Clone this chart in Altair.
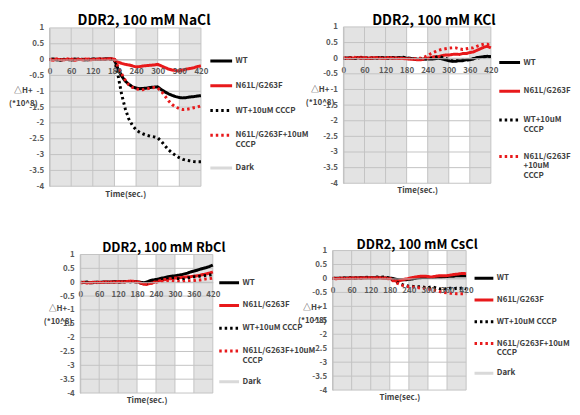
import altair as alt
import pandas as pd

FONT = "Noto Sans CJK KR"

TIME = [0, 10, 20, 30, 40, 50, 60, 70, 80, 90, 100, 110, 120, 130, 140, 150, 160, 170, 180,
        190, 200, 210, 220, 230, 240, 250, 260, 270, 280, 290, 300, 310, 320, 330, 340, 350,
        360, 370, 380, 390, 400, 410, 420]

SERIES = ["WT", "N61L/G263F", "WT+10uM CCCP", "N61L/G263F+10uM CCCP", "Dark"]
COLORS = ["#000000", "#e8191b", "#000000", "#e8191b", "#d9d9d9"]
DASHES = [[1, 0], [1, 0], [2.5, 3], [2.5, 3], [1, 0]]
WIDTHS = [3, 3, 3, 3, 1]

# Light-off (dark) periods shown as grey bands
BAND_START = [0, 240, 360]
BAND_END = [180, 300, 420]
Y_TICKS = [-4, -3.5, -3, -2.5, -2, -1.5, -1, -0.5, 0, 0.5, 1]
X_TICKS = [0, 60, 120, 180, 240, 300, 360, 420]

# ---- NaCl ----
NACL_WT = [0.00, 0.02, 0.00, -0.02, 0.01, 0.00, -0.01, 0.02, 0.00, 0.01, -0.01, 0.00, 0.02, 0.01, 0.00, 0.02, 0.03, 0.02, 0.00,
           -0.30, -0.52, -0.68, -0.78, -0.86, -0.90, -0.92, -0.91, -0.90, -0.88, -0.87, -0.86, -0.95, -1.02, -1.08, -1.13,
           -1.17, -1.20, -1.21, -1.20, -1.18, -1.17, -1.15, -1.14]
NACL_MUT = [0.00, -0.02, 0.01, 0.00, -0.01, 0.02, 0.00, -0.02, 0.01, 0.00, 0.02, -0.01, 0.00, 0.01, 0.03, 0.00, 0.02, 0.03, 0.01,
            -0.08, -0.12, -0.15, -0.17, -0.20, -0.23, -0.22, -0.20, -0.19, -0.18, -0.17, -0.15, -0.20, -0.25, -0.30, -0.33,
            -0.35, -0.36, -0.33, -0.30, -0.28, -0.26, -0.22, -0.20]
NACL_WT_CCCP = [0.00, 0.01, -0.01, 0.00, 0.01, 0.00, -0.01, 0.00, 0.01, 0.00, -0.01, 0.00, 0.01, 0.00, 0.01, 0.00, 0.00, 0.01, 0.00,
                -0.50, -1.10, -1.55, -1.88, -2.08, -2.22, -2.30, -2.35, -2.39, -2.42, -2.44, -2.47, -2.58, -2.72, -2.85, -2.95,
                -3.03, -3.10, -3.15, -3.18, -3.20, -3.22, -3.23, -3.23]
NACL_MUT_CCCP = [0.01, 0.00, 0.02, 0.00, -0.01, 0.01, 0.02, 0.00, 0.01, -0.01, 0.00, 0.02, 0.01, 0.00, 0.01, 0.02, 0.00, 0.02, 0.00,
                 -0.22, -0.45, -0.65, -0.80, -0.88, -0.92, -0.95, -0.95, -0.93, -0.90, -0.88, -0.90, -1.00, -1.15, -1.30, -1.42,
                 -1.50, -1.55, -1.58, -1.57, -1.55, -1.52, -1.50, -1.46]

# ---- KCl ----
KCL_WT = [0.00, 0.01, 0.00, -0.01, 0.02, 0.00, 0.01, 0.00, -0.01, 0.01, 0.02, 0.00, 0.01, 0.02, 0.00, 0.01, 0.02, 0.01, 0.00,
          -0.01, -0.02, -0.03, -0.04, -0.03, -0.02, -0.03, -0.02, 0.00, -0.02, -0.05, -0.08, -0.10, -0.10, -0.08, -0.08,
          -0.05, -0.05, -0.02, 0.02, 0.03, 0.05, 0.06, 0.05]
KCL_MUT = [0.00, -0.01, 0.02, 0.00, 0.01, 0.03, 0.00, -0.01, 0.02, 0.01, 0.00, 0.01, -0.01, 0.00, 0.02, 0.00, -0.01, 0.00, -0.02,
           -0.03, -0.04, -0.05, -0.05, -0.02, 0.00, 0.02, 0.05, 0.05, 0.08, 0.10, 0.10, 0.12, 0.13, 0.12, 0.15,
           0.15, 0.18, 0.20, 0.25, 0.30, 0.35, 0.38, 0.33]
KCL_WT_CCCP = [0.00, 0.00, 0.01, 0.00, -0.01, 0.01, 0.00, 0.02, 0.00, 0.01, 0.00, 0.02, 0.01, 0.00, 0.02, 0.03, 0.02, 0.03, 0.01,
               0.00, -0.01, -0.02, -0.01, -0.02, -0.03, 0.00, 0.02, 0.05, 0.03, 0.00, -0.05, -0.08, -0.08, -0.06, -0.05,
               -0.06, -0.04, -0.02, 0.00, 0.02, 0.03, 0.05, 0.04]
KCL_MUT_CCCP = [0.01, 0.02, 0.00, 0.03, 0.01, 0.00, 0.02, 0.01, 0.00, 0.02, 0.01, 0.00, 0.01, 0.02, 0.00, 0.01, 0.00, -0.01, -0.02,
                -0.02, -0.02, -0.01, 0.00, 0.03, 0.08, 0.15, 0.20, 0.25, 0.28, 0.30, 0.32, 0.33, 0.33, 0.30, 0.28,
                0.30, 0.32, 0.33, 0.38, 0.42, 0.45, 0.45, 0.38]

# ---- RbCl ----
RBCL_WT = [0.00, -0.01, 0.00, -0.02, -0.01, 0.00, -0.01, 0.00, 0.01, 0.00, 0.01, 0.02, 0.01, 0.02, 0.02, 0.03, 0.02, 0.03, 0.02,
           0.00, -0.02, 0.00, 0.05, 0.08, 0.10, 0.12, 0.15, 0.17, 0.20, 0.22, 0.23, 0.25, 0.27, 0.30, 0.33,
           0.37, 0.40, 0.43, 0.47, 0.50, 0.53, 0.57, 0.62]
RBCL_MUT = [-0.02, 0.00, -0.01, -0.02, 0.00, -0.01, 0.00, -0.01, 0.01, 0.00, 0.01, 0.00, 0.02, 0.01, 0.02, 0.03, 0.04, 0.03, 0.02,
            -0.02, -0.07, -0.08, -0.05, -0.02, 0.02, 0.05, 0.08, 0.10, 0.12, 0.13, 0.15, 0.15, 0.17, 0.18, 0.20,
            0.20, 0.22, 0.23, 0.25, 0.28, 0.30, 0.33, 0.37]
RBCL_WT_CCCP = [-0.01, -0.02, 0.00, -0.01, -0.02, 0.00, -0.01, 0.00, -0.01, 0.00, 0.00, 0.01, 0.00, 0.01, 0.02, 0.01, 0.02, 0.02, 0.01,
                -0.02, -0.05, -0.05, -0.02, 0.02, 0.05, 0.08, 0.10, 0.12, 0.13, 0.15, 0.15, 0.13, 0.10, 0.12, 0.15,
                0.18, 0.20, 0.20, 0.22, 0.23, 0.25, 0.26, 0.28]
RBCL_MUT_CCCP = [-0.02, -0.01, -0.03, -0.02, -0.01, -0.02, 0.00, -0.01, 0.00, -0.01, 0.01, 0.00, 0.01, 0.02, 0.01, 0.02, 0.03, 0.02, 0.01,
                 -0.03, -0.05, -0.07, -0.05, -0.03, 0.00, 0.02, 0.03, 0.05, 0.05, 0.05, 0.04, 0.03, 0.02, 0.03, 0.05,
                 0.05, 0.06, 0.08, 0.08, 0.10, 0.12, 0.13, 0.15]

# ---- CsCl ----
CSCL_WT = [0.00, 0.01, 0.00, 0.01, 0.02, 0.01, 0.02, 0.01, 0.02, 0.03, 0.02, 0.03, 0.02, 0.03, 0.02, 0.03, 0.02, 0.02, 0.01,
           0.00, -0.03, -0.05, -0.05, -0.05, -0.03, -0.02, 0.00, 0.02, 0.03, 0.03, 0.03, 0.03, 0.04, 0.05, 0.05,
           0.06, 0.07, 0.08, 0.08, 0.10, 0.10, 0.10, 0.10]
CSCL_MUT = [0.00, -0.01, 0.00, 0.01, 0.00, 0.01, 0.02, 0.01, 0.02, 0.01, 0.02, 0.03, 0.02, 0.01, 0.02, 0.03, 0.02, 0.01, 0.00,
            -0.05, -0.10, -0.08, -0.05, -0.02, 0.00, 0.03, 0.05, 0.07, 0.08, 0.08, 0.07, 0.05, 0.07, 0.09, 0.10,
            0.10, 0.10, 0.12, 0.14, 0.15, 0.17, 0.18, 0.17]
CSCL_WT_CCCP = [0.01, 0.00, 0.01, 0.02, 0.01, 0.02, 0.03, 0.02, 0.03, 0.02, 0.03, 0.04, 0.03, 0.04, 0.05, 0.04, 0.05, 0.04, 0.00,
                -0.05, -0.12, -0.18, -0.22, -0.25, -0.28, -0.28, -0.30, -0.30, -0.30, -0.32, -0.33, -0.30, -0.32, -0.35, -0.38,
                -0.35, -0.40, -0.35, -0.38, -0.35, -0.36, -0.33, -0.38]
CSCL_MUT_CCCP = [0.00, 0.01, 0.00, 0.01, 0.00, 0.02, 0.01, 0.02, 0.01, 0.02, 0.03, 0.02, 0.03, 0.02, 0.03, 0.02, 0.01, 0.00, -0.02,
                 -0.08, -0.15, -0.20, -0.25, -0.28, -0.30, -0.30, -0.32, -0.33, -0.35, -0.35, -0.38, -0.40, -0.42, -0.45, -0.48,
                 -0.50, -0.52, -0.53, -0.53, -0.55, -0.55, -0.55, -0.55]

LABELS_STD = "datum.label == 'N61L/G263F+10uM CCCP' ? ['N61L/G263F+10uM', 'CCCP'] : datum.label"
LABELS_KCL = ("datum.label == 'WT+10uM CCCP' ? ['WT+10uM', 'CCCP'] : "
              "datum.label == 'N61L/G263F+10uM CCCP' ? ['N61L/G263F', '+10uM', 'CCCP'] : datum.label")

CELL_W, CELL_H = 281, 199

PANELS = [
    dict(title="DDR2, 100 mM NaCl", series=[NACL_WT, NACL_MUT, NACL_WT_CCCP, NACL_MUT_CCCP],
         xr=[39, 192], yr=[177, 17], tdx=-6, tdy=24, tsize=14, ytx=-27, yty=76, ttl_y=136,
         lx=200, ly=38, sym=22, rowpad=6, labels=LABELS_STD, n=5),
    dict(title="DDR2, 100 mM KCl", series=[KCL_WT, KCL_MUT, KCL_WT_CCCP, KCL_MUT_CCCP],
         xr=[55, 204], yr=[174, 16], tdx=6, tdy=24, tsize=14, ytx=-24, yty=75, ttl_y=134,
         lx=211, ly=40, sym=21, rowpad=11, labels=LABELS_KCL, n=4),
    dict(title="DDR2, 100 mM RbCl", series=[RBCL_WT, RBCL_MUT, RBCL_WT_CCCP, RBCL_MUT_CCCP],
         xr=[70, 204], yr=[187, 47], tdx=14, tdy=53, tsize=13, ytx=-23, yty=98, ttl_y=120,
         lx=209, ly=64, sym=20, rowpad=5, labels=LABELS_STD, n=5),
    dict(title="DDR2, 100 mM CsCl", series=[CSCL_WT, CSCL_MUT, CSCL_WT_CCCP, CSCL_MUT_CCCP],
         xr=[44, 179], yr=[184, 43], tdx=-11, tdy=50, tsize=13, ytx=-21, yty=97, ttl_y=120,
         lx=186, ly=60, sym=19, rowpad=5, labels=LABELS_STD, n=5),
]

band_df = pd.DataFrame({"start": BAND_START, "end": BAND_END, "lo": [-4] * 3, "hi": [1] * 3})
ygrid_df = pd.DataFrame({"v": Y_TICKS})
xgrid_df = pd.DataFrame({"t": X_TICKS})


def make_panel(p):
    rows = []
    for name, vals in zip(SERIES[:4], p["series"]):
        for t, v in zip(TIME, vals):
            rows.append({"time": t, "value": v, "series": name})
    df = pd.DataFrame(rows)

    xs = alt.Scale(domain=[0, 420], range=p["xr"], nice=False, zero=False)
    ys = alt.Scale(domain=[-4, 1], range=p["yr"], nice=False, zero=False)
    y0 = p["yr"][1] + (p["yr"][0] - p["yr"][1]) / 5.0

    n = p["n"]
    leg = alt.Legend(orient="none", legendX=p["lx"], legendY=p["ly"], title=None,
                     symbolType="stroke", symbolSize=p["sym"] ** 2,
                     labelFont=FONT, labelFontSize=8, labelFontWeight="bold", labelColor="#404040",
                     labelOffset=2, labelLimit=300, labelExpr=p["labels"], rowPadding=p["rowpad"])
    dom = SERIES[:n]
    color = alt.Color("series:N", scale=alt.Scale(domain=dom, range=COLORS[:n]), legend=leg)
    dash = alt.StrokeDash("series:N", scale=alt.Scale(domain=dom, range=DASHES[:n]), legend=leg)
    width = alt.StrokeWidth("series:N", scale=alt.Scale(domain=dom, range=WIDTHS[:n]), legend=leg)

    xa = alt.Axis(values=X_TICKS, orient="bottom", offset=round(y0 - CELL_H, 1), grid=False, ticks=False,
                  domainColor="#bfbfbf", labelFont=FONT, labelFontSize=8, labelFontWeight="bold",
                  labelColor="#595959", labelPadding=8, labelFlush=False, labelOverlap=False, zindex=1,
                  title="Time(sec.)", titleY=p["ttl_y"], titleBaseline="middle", titleFont=FONT,
                  titleFontSize=8, titleFontWeight="bold", titleColor="#404040")
    ya = alt.Axis(values=Y_TICKS, orient="left", offset=-p["xr"][0], grid=False, ticks=False,
                  domainColor="#bfbfbf", labelFont=FONT, labelFontSize=8, labelFontWeight="bold",
                  labelColor="#595959", labelPadding=6, labelExpr="datum.value + ''",
                  labelFlush=False, labelOverlap=False, zindex=1,
                  title=["△H+", "(*10^8)"], titleAngle=0, titleX=p["ytx"], titleY=p["yty"],
                  titleAlign="center", titleBaseline="top", titleLineHeight=13, titleFont=FONT,
                  titleFontSize=8, titleFontWeight="bold", titleColor="#404040")

    bands = alt.Chart(band_df).mark_rect(color="#e3e3e3").encode(
        x=alt.X("start:Q", scale=xs, axis=xa), x2="end",
        y=alt.Y("lo:Q", scale=ys, axis=ya), y2="hi")
    hgrid = alt.Chart(ygrid_df).mark_rule(color="#c3c3c3", strokeWidth=1).encode(
        y=alt.Y("v:Q", scale=ys, axis=ya),
        x=alt.X(datum=0, scale=xs, axis=xa), x2=alt.X2(datum=420))
    vgrid = alt.Chart(xgrid_df).mark_rule(color="#c3c3c3", strokeWidth=1).encode(
        x=alt.X("t:Q", scale=xs, axis=xa),
        y=alt.Y(datum=-4, scale=ys, axis=ya), y2=alt.Y2(datum=1))
    lines = alt.Chart(df).mark_line(strokeCap="butt", strokeJoin="round").encode(
        x=alt.X("time:Q", scale=xs, axis=xa),
        y=alt.Y("value:Q", scale=ys, axis=ya),
        color=color, strokeDash=dash, strokeWidth=width)

    return alt.layer(bands, hgrid, vgrid, lines).properties(
        width=CELL_W, height=CELL_H,
        title=alt.TitleParams(p["title"], anchor="middle", frame="group", dx=p["tdx"], dy=p["tdy"],
                              offset=0, baseline="middle", font=FONT, fontSize=p["tsize"],
                              fontWeight="bold", color="#000000"))


panels = [make_panel(p) for p in PANELS]
chart = alt.concat(*panels, columns=2, spacing=0, bounds="flush").resolve_scale(
    color="independent", strokeDash="independent", strokeWidth="independent"
).properties(padding=0, background="white").configure_view(stroke="transparent")

chart.save("out.html", embed_options={"renderer": "svg", "actions": False})
